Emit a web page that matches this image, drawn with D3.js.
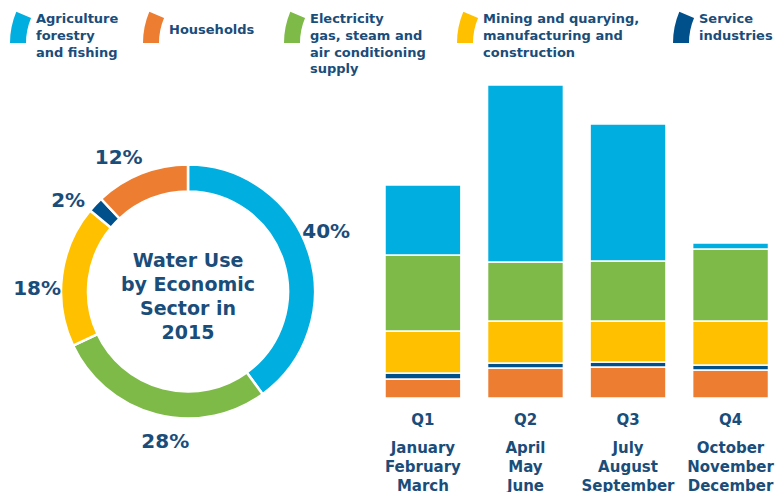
<!DOCTYPE html>
<html>
<head>
<meta charset="utf-8">
<script src="https://cdn.jsdelivr.net/npm/d3@7"></script>
<style>
  body { margin: 0; background: #fff; }
  svg { display: block; font-family: "DejaVu Sans", Verdana, sans-serif; font-weight: bold; }
  text { fill: #1a4d7a; }
</style>
</head>
<body>
<svg width="779" height="492"></svg>
<script>
// Sectors (legend order)
const sectors = ["agri", "house", "elec", "mining", "service"];
const sectorLabels = [
    ["Agriculture", "forestry", "and fishing"],
    ["Households"],
    ["Electricity", "gas, steam and", "air conditioning", "supply"],
    ["Mining and quarying,", "manufacturing and", "construction"],
    ["Service", "industries"]
];
const sectorColors = ["#00aee0", "#ed7d31", "#7dba48", "#ffc000", "#00508c"];

// Donut: yearly share, clockwise from the top
const donutOrder = ["agri", "elec", "mining", "service", "house"];
const donutShares = [40, 28, 18, 2, 12];
const donutTitle = ["Water Use", "by Economic", "Sector in", "2015"];

// Quarterly use, stacked from the bottom
const quarters = ["Q1", "Q2", "Q3", "Q4"];
const quarterMonths = [
    ["January", "February", "March"],
    ["April", "May", "June"],
    ["July", "August", "September"],
    ["October", "November", "December"]
];
const stackOrder = ["house", "service", "mining", "elec", "agri"];
const houseValues   = [19, 30, 31, 28];
const serviceValues = [6, 5, 5, 5];
const miningValues  = [42, 42, 41, 44];
const elecValues    = [76, 59, 60, 72];
const agriValues    = [70, 177, 137, 6];

const svg = d3.select("svg");
const color = d3.scaleOrdinal().domain(sectors).range(sectorColors);

// ---- Legend ----
const legendX = [10, 143, 284, 457, 673];
const swatchArc = d3.arc()
    .innerRadius(64)
    .outerRadius(80)
    .startAngle(-Math.PI / 2)
    .endAngle(-Math.PI / 2 + 0.4);

sectors.forEach((s, i) => {
    const g = svg.append("g").attr("transform", `translate(${legendX[i]}, 12)`);
    g.append("path")
        .attr("d", swatchArc())
        .attr("transform", "translate(80, 31)")
        .attr("fill", color(s));
    const t = g.append("text")
        .attr("x", 26)
        .attr("y", sectorLabels[i].length === 1 ? 22 : 11)
        .style("font-size", "13px");
    sectorLabels[i].forEach((line, j) => {
        t.append("tspan")
            .attr("x", 26)
            .attr("dy", j === 0 ? 0 : 16.8)
            .text(line);
    });
});

// ---- Donut ----
const cx = 188, cy = 291.5;
const donut = svg.append("g").attr("transform", `translate(${cx}, ${cy})`);
const pie = d3.pie().sort(null).value(d => d.v);
const donutData = pie(donutOrder.map((k, i) => ({ k: k, v: donutShares[i] })));
const arc = d3.arc().innerRadius(100).outerRadius(127);

donut.selectAll("path.slice")
    .data(donutData)
    .enter()
    .append("path")
    .attr("class", "slice")
    .attr("d", arc)
    .attr("fill", d => color(d.data.k))
    .attr("stroke", "#fff")
    .attr("stroke-width", 2.5);

const labelR = 151;
donut.selectAll("text.pct")
    .data(donutData)
    .enter()
    .append("text")
    .attr("class", "pct")
    .attr("x", d => labelR * Math.sin((d.startAngle + d.endAngle) / 2 - 0.1))
    .attr("y", d => -labelR * Math.cos((d.startAngle + d.endAngle) / 2 - 0.1))
    .attr("text-anchor", "middle")
    .attr("dominant-baseline", "central")
    .style("font-size", "20px")
    .text(d => d.data.v + "%");

const title = donut.append("text")
    .attr("text-anchor", "middle")
    .attr("y", -25)
    .style("font-size", "19px");
donutTitle.forEach((line, j) => {
    title.append("tspan")
        .attr("x", 0)
        .attr("dy", j === 0 ? 0 : 24.3)
        .text(line);
});

// ---- Stacked bars ----
const valueMap = { house: houseValues, service: serviceValues, mining: miningValues, elec: elecValues, agri: agriValues };
const table = quarters.map((q, i) => {
    const row = { q: q };
    stackOrder.forEach(k => row[k] = valueMap[k][i]);
    return row;
});
const series = d3.stack().keys(stackOrder)(table);

const xScale = d3.scaleBand()
    .domain(quarters)
    .range([385, 768.5])
    .paddingInner(0.26)
    .paddingOuter(0);

const yScale = d3.scaleLinear()
    .domain([0, d3.max(table, d => stackOrder.reduce((a, k) => a + d[k], 0))])
    .range([398, 85]);

svg.append("g")
    .selectAll("g")
    .data(series)
    .enter()
    .append("g")
    .attr("fill", d => color(d.key))
    .selectAll("rect")
    .data(d => d)
    .enter()
    .append("rect")
    .attr("x", d => xScale(d.data.q))
    .attr("y", d => yScale(d[1]))
    .attr("width", xScale.bandwidth())
    .attr("height", d => yScale(d[0]) - yScale(d[1]))
    .attr("stroke", "#fff")
    .attr("stroke-width", 1.5);

// X axis labels
const xAxis = svg.append("g")
    .attr("transform", "translate(0, 398)")
    .call(d3.axisBottom(xScale).tickSize(0).tickPadding(16));
xAxis.select(".domain").remove();
xAxis.selectAll("text")
    .attr("fill", "#1a4d7a")
    .style("font-size", "15px")
    .style("font-family", "DejaVu Sans, Verdana, sans-serif")
    .style("font-weight", "bold");

quarters.forEach((q, i) => {
    const t = svg.append("text")
        .attr("text-anchor", "middle")
        .attr("y", 453)
        .style("font-size", "15px");
    quarterMonths[i].forEach((m, j) => {
        t.append("tspan")
            .attr("x", xScale(q) + xScale.bandwidth() / 2)
            .attr("dy", j === 0 ? 0 : 19)
            .text(m);
    });
});
</script>
</body>
</html>
